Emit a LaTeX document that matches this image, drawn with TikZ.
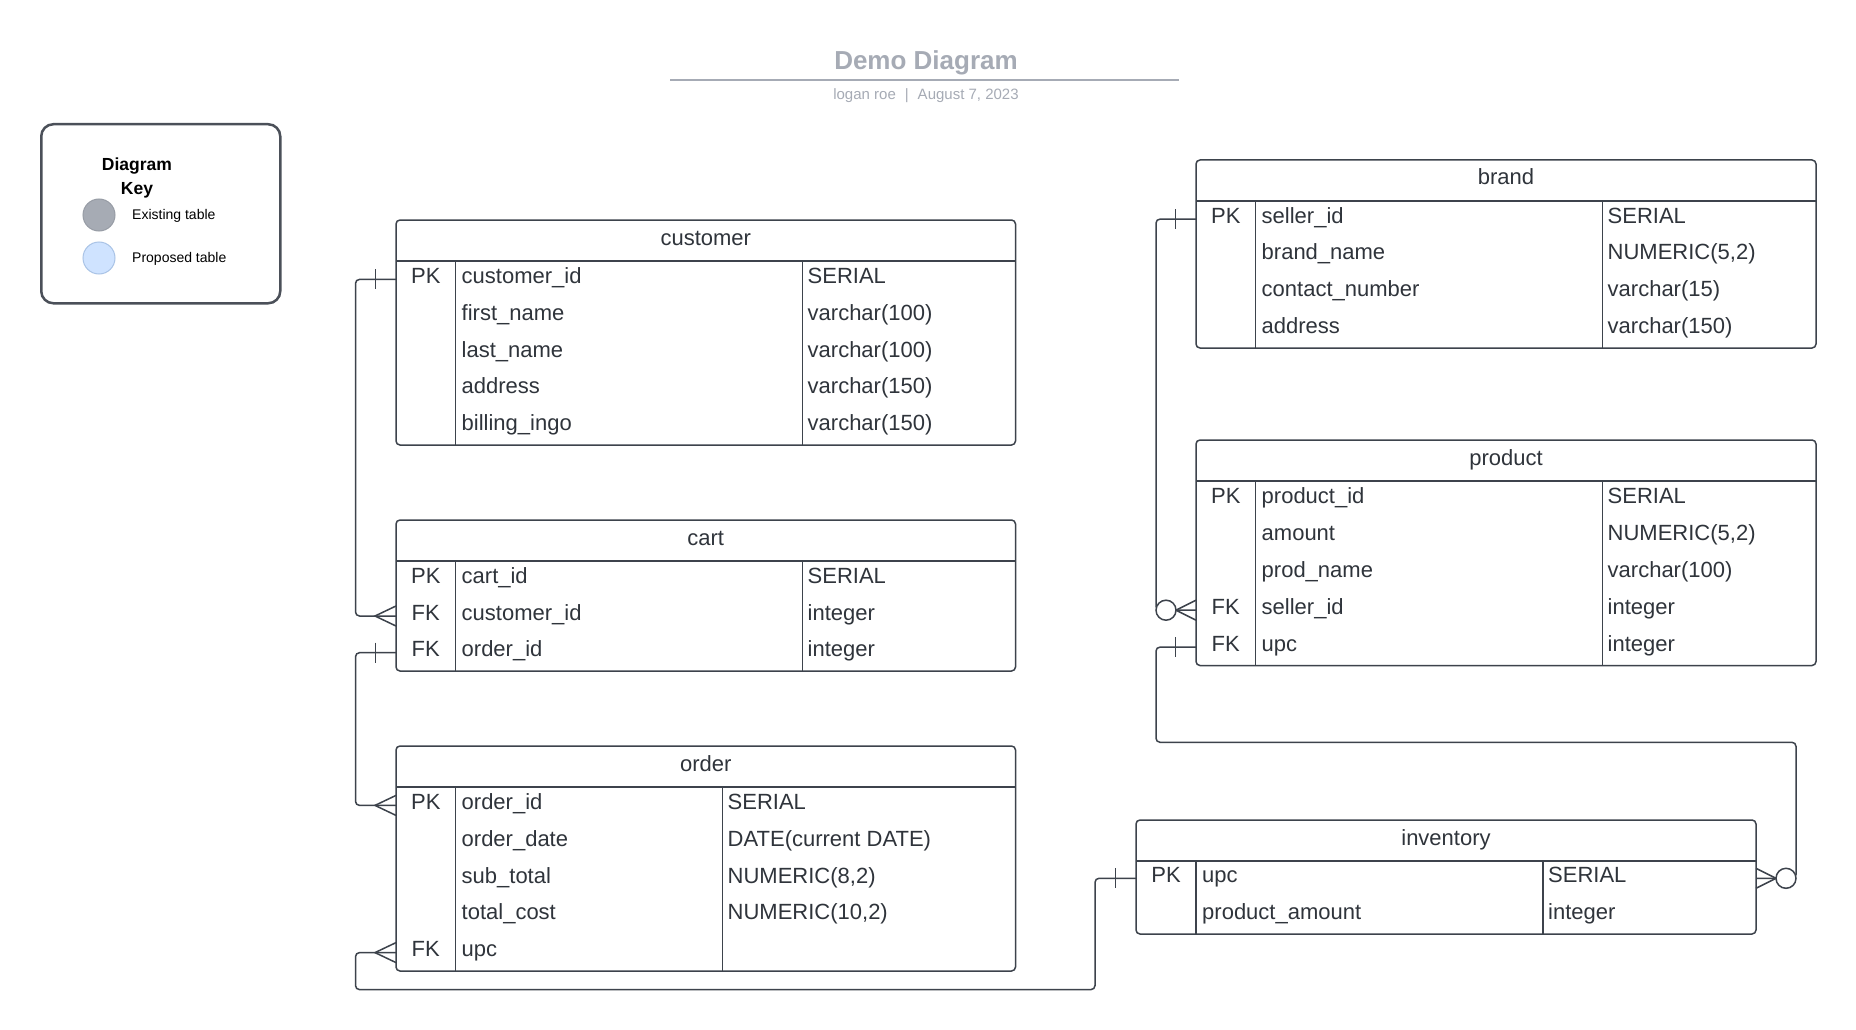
\documentclass[tikz,border=0pt]{standalone}
\usepackage{fontspec}
\setmainfont{Liberation Sans}
\usetikzlibrary{calc}
\definecolor{ln}{HTML}{3D434C}
\definecolor{tx}{HTML}{2F343B}
\definecolor{ttl}{HTML}{A6ABB5}
\definecolor{keyln}{HTML}{4B5059}
\definecolor{exist}{HTML}{A6ABB4}
\definecolor{existln}{HTML}{979CA5}
\definecolor{prop}{HTML}{CFE3FF}
\definecolor{propln}{HTML}{A9C3E6}
\tikzset{
  tablebox/.style={draw=ln, line width=1.5pt, rounded corners=4pt, fill=white, inner sep=0pt, outer sep=0pt, anchor=north west},
  sepline/.style={draw=ln, line width=1.5pt},
  cell/.style={text=tx, font=\fontsize{22}{26}\selectfont, inner sep=0pt, anchor=base west},
  keycell/.style={cell, anchor=base},
  ttext/.style={cell, anchor=base},
  conn/.style={draw=ln, line width=1.5pt, rounded corners=4pt},
  sharp/.style={draw=ln, line width=1.5pt},
  keytxt/.style={text=black, font=\fontsize{14}{17}\selectfont, inner sep=0pt, anchor=base west},
  keyhead/.style={text=black, font=\bfseries\fontsize{17.5}{21}\selectfont, inner sep=0pt, anchor=base},
}
\newcommand\ertable[8]{%
  \def\erL{#2}\def\erR{#4}\def\erA{#6}\def\erB{#7}%
  \node[tablebox, minimum width={(#4-#2)*1pt}, minimum height={(#5-#3)*1pt}] (#1) at (#2,#3) {};
  \draw[sepline] (#2,#3+41) -- (#4,#3+41);
  \draw[sepline] (#6,#3+41) -- (#6,#5);
  \draw[sepline] (#7,#3+41) -- (#7,#5);
  \node[ttext] (#1-title) at ({(#2+#4)/2},#3+25) {#8};
}
\newcommand\errow[6]{%
  \coordinate (#1-#2) at (\erL,#3);
  \coordinate (#1-#2-e) at (\erR,#3);
  \if\relax\detokenize{#4}\relax\else\node[keycell] (#1-#2-k) at ({(\erL+\erA)/2},#3+4) {#4};\fi
  \node[cell] (#1-#2-f) at (\erA+6,#3+4) {#5};
  \if\relax\detokenize{#6}\relax\else\node[cell] (#1-#2-t) at (\erB+5,#3+4) {#6};\fi
}
\newcommand\onemark[2]{\draw[sharp] ($(#1)+(#2,-10)$) -- ++(0,20);}
\newcommand\crowmark[2]{\draw[sharp] ($(#1)+(0,-10)$) -- ($(#1)+(#2,0)$) -- ($(#1)+(0,10)$);}
\newcommand\zeromark[2]{\draw[sharp, fill=white] ($(#1)+(#2,0)$) circle[radius=10pt];}
\begin{document}
\begin{tikzpicture}[x=1pt, y=-1pt]
\useasboundingbox (0,0) rectangle (1856,1030);
\fill[white] (0,0) rectangle (1856,1030);

% title block
\node[text=ttl, font=\bfseries\fontsize{26}{30}\selectfont, inner sep=0pt, anchor=base] (title) at (926,70) {Demo Diagram};
\coordinate (tl1) at (670,80);
\coordinate (tl2) at (1179,80);
\draw[ttl, line width=2pt] (tl1) -- (tl2);
\node[text=ttl, font=\fontsize{15}{18}\selectfont, inner sep=0pt, anchor=base] (subtitle) at (926,100) {logan roe\hspace{9pt}|\hspace{9pt}August 7, 2023};

% key
\node[draw=keyln, line width=2.5pt, rounded corners=12pt, fill=white, minimum width=239pt, minimum height=179pt, inner sep=0pt, anchor=north west] (key) at (40,123) {};
\node[keyhead] (keyh1) at (137,171) {Diagram};
\node[keyhead] (keyh2) at (137,194) {Key};
\node[circle, draw=existln, line width=1pt, fill=exist, minimum size=32pt, inner sep=0pt] (kexist) at (99,215) {};
\node[circle, draw=propln, line width=1pt, fill=prop, minimum size=32pt, inner sep=0pt] (kprop) at (99,258) {};
\node[keytxt] (kexistt) at (132,219) {Existing table};
\node[keytxt] (kpropt) at (132,262) {Proposed table};

% tables
\ertable{cust}{396}{220}{1015.5}{445}{455.5}{802.5}{customer}
\errow{cust}{1}{279.4}{PK}{customer\_id}{SERIAL}
\errow{cust}{2}{316.2}{}{first\_name}{varchar(100)}
\errow{cust}{3}{353}{}{last\_name}{varchar(100)}
\errow{cust}{4}{389.8}{}{address}{varchar(150)}
\errow{cust}{5}{426.6}{}{billing\_ingo}{varchar(150)}

\ertable{cart}{396}{520}{1015.5}{671}{455.5}{802.5}{cart}
\errow{cart}{1}{579.3}{PK}{cart\_id}{SERIAL}
\errow{cart}{2}{616}{FK}{customer\_id}{integer}
\errow{cart}{3}{652.7}{FK}{order\_id}{integer}

\ertable{ord}{396}{746}{1015.5}{971}{455.5}{722.5}{order}
\errow{ord}{1}{805.4}{PK}{order\_id}{SERIAL}
\errow{ord}{2}{842.2}{}{order\_date}{DATE(current DATE)}
\errow{ord}{3}{879}{}{sub\_total}{NUMERIC(8,2)}
\errow{ord}{4}{915.8}{}{total\_cost}{NUMERIC(10,2)}
\errow{ord}{5}{952.6}{FK}{upc}{}

\ertable{brand}{1196}{160}{1816}{348}{1255.5}{1602.5}{brand}
\errow{brand}{1}{219.1}{PK}{seller\_id}{SERIAL}
\errow{brand}{2}{255.9}{}{brand\_name}{NUMERIC(5,2)}
\errow{brand}{3}{292.7}{}{contact\_number}{varchar(15)}
\errow{brand}{4}{329.5}{}{address}{varchar(150)}

\ertable{prod}{1196}{440}{1816}{665.5}{1255.5}{1602.5}{product}
\errow{prod}{1}{499.5}{PK}{product\_id}{SERIAL}
\errow{prod}{2}{536.4}{}{amount}{NUMERIC(5,2)}
\errow{prod}{3}{573.3}{}{prod\_name}{varchar(100)}
\errow{prod}{4}{610.2}{FK}{seller\_id}{integer}
\errow{prod}{5}{647.1}{FK}{upc}{integer}

\ertable{inv}{1136}{820}{1756}{934}{1196}{1543}{inventory}
\errow{inv}{1}{878.3}{PK}{upc}{SERIAL}
\errow{inv}{2}{915.2}{}{product\_amount}{integer}

% relationships
\draw[conn] (cust-1) -- ++(-40.5,0) |- (cart-2);
\onemark{cust-1}{-20.5}
\crowmark{cart-2}{-21}

\draw[conn] (cart-3) -- ++(-40.5,0) |- (ord-1);
\onemark{cart-3}{-20.5}
\crowmark{ord-1}{-21}

\draw[conn] (ord-5) -- ++(-40.5,0) -- ++(0,37) -| ($(inv-1)+(-41,0)$) -- (inv-1);
\crowmark{ord-5}{-21}
\onemark{inv-1}{-20.7}

\draw[conn] (brand-1) -- ++(-40,0) |- (prod-4);
\onemark{brand-1}{-20.5}
\crowmark{prod-4}{-20}
\zeromark{prod-4}{-30}

\draw[conn] (prod-5) -- ++(-40,0) -- ++(0,95.2) -| ($(inv-1-e)+(40,0)$) -- (inv-1-e);
\onemark{prod-5}{-20.5}
\crowmark{inv-1-e}{20}
\zeromark{inv-1-e}{30}
\end{tikzpicture}
\end{document}
